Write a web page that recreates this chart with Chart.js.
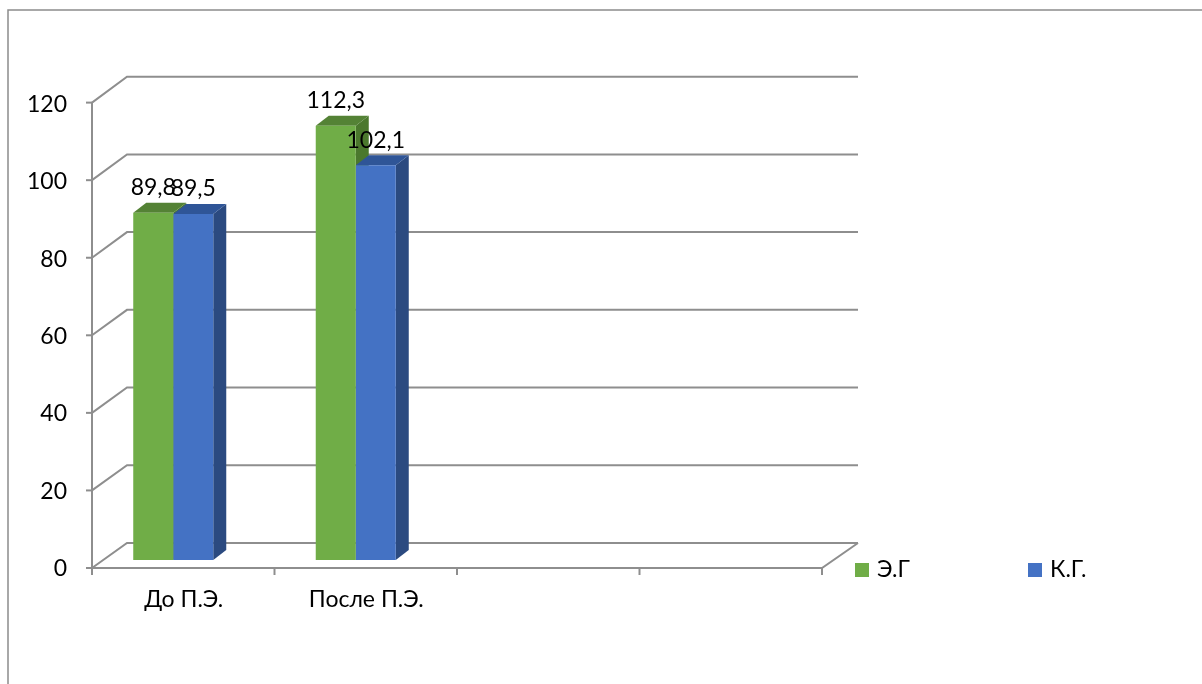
<!DOCTYPE html>
<html lang="ru">
<head>
<meta charset="utf-8">
<title>Э.Г / К.Г.</title>
<script src="https://cdn.jsdelivr.net/npm/chart.js@4"></script>
<style>
  html, body { margin: 0; padding: 0; background: #ffffff; }
  canvas { display: block; }
</style>
</head>
<body>
<canvas id="chart" width="1202" height="684"></canvas>
<script>
// Categories and series values
const categories = ["До П.Э.", "После П.Э.", "", ""];
const seriesNames = ["Э.Г", "К.Г."];
const egValues = [89.8, 112.3, null, null];
const kgValues = [89.5, 102.1, null, null];
const yMin = 0;
const yMax = 120;
const yStep = 20;

// Colours: front, top, side faces of the 3D columns
const palette = [
  { front: "#70AD47", top: "#548235", side: "#4B782D" },
  { front: "#4472C4", top: "#2F5597", side: "#2B4A80" }
];

const FONT = "Lato, 'Liberation Sans', sans-serif";
const gridColor = "#8E8E8E";

// depth of the floor/walls relative to the bar plane
const FRONT_DX = 10, FRONT_DY = 8;
const BACK_DX = 45, BACK_DY = -17;
// depth of a single column
const BAR_DX = 13, BAR_DY = 10;

function fmt(v) { return String(v).replace(".", ","); }

const walls3d = {
  id: "walls3d",
  beforeDraw(chart) {
    const { ctx } = chart;
    ctx.save();
    ctx.strokeStyle = "#8C8C8C";
    ctx.lineWidth = 1.5;
    ctx.strokeRect(8, 10, 1400, 900);
    ctx.restore();
  },
  beforeDatasetsDraw(chart) {
    const { ctx, chartArea: a, scales: { y } } = chart;
    const y0 = y.getPixelForValue(0);
    const fY = v => y0 + FRONT_DY - (y0 - y.getPixelForValue(v)) * 1.003;
    const bY = v => y0 + BACK_DY - (y0 - y.getPixelForValue(v)) * 1.005;
    const fL = a.left + FRONT_DX, fR = a.right + FRONT_DX;
    const bL = a.left + BACK_DX, bR = a.right + BACK_DX + 1;

    ctx.save();
    ctx.strokeStyle = gridColor;
    ctx.lineWidth = 2;
    ctx.lineJoin = "miter";
    // side wall diagonals + back wall gridlines
    y.ticks.forEach(t => {
      const v = t.value;
      ctx.beginPath();
      ctx.moveTo(fL, fY(v));
      ctx.lineTo(bL, bY(v));
      ctx.lineTo(bR, bY(v));
      ctx.stroke();
    });
    // floor front edge and right edge
    ctx.beginPath();
    ctx.moveTo(fL, fY(0));
    ctx.lineTo(fR, fY(0));
    ctx.lineTo(bR, bY(0));
    ctx.stroke();
    // vertical front axis
    ctx.beginPath();
    ctx.moveTo(fL, fY(yMax));
    ctx.lineTo(fL, fY(0));
    ctx.stroke();
    // y tick marks
    y.ticks.forEach(t => {
      ctx.beginPath();
      ctx.moveTo(fL - 6, fY(t.value));
      ctx.lineTo(fL, fY(t.value));
      ctx.stroke();
    });
    // x tick marks at category boundaries
    const n = categories.length;
    for (let i = 0; i <= n; i++) {
      const px = fL + (fR - fL) * i / n;
      ctx.beginPath();
      ctx.moveTo(px, fY(0));
      ctx.lineTo(px, fY(0) + 7);
      ctx.stroke();
    }
    ctx.restore();

    // top and side faces of every column
    chart.data.datasets.forEach((ds, di) => {
      const meta = chart.getDatasetMeta(di);
      const col = palette[di];
      meta.data.forEach((bar, j) => {
        if (ds.data[j] == null) return;
        const x0 = bar.x - bar.width / 2, x1 = bar.x + bar.width / 2;
        const yt = bar.y, yb = bar.base;
        ctx.save();
        ctx.fillStyle = col.side;
        ctx.beginPath();
        ctx.moveTo(x1, yb);
        ctx.lineTo(x1 + BAR_DX, yb - BAR_DY);
        ctx.lineTo(x1 + BAR_DX, yt - BAR_DY);
        ctx.lineTo(x1, yt);
        ctx.closePath();
        ctx.fill();
        ctx.fillStyle = col.top;
        ctx.beginPath();
        ctx.moveTo(x0, yt);
        ctx.lineTo(x1, yt);
        ctx.lineTo(x1 + BAR_DX, yt - BAR_DY);
        ctx.lineTo(x0 + BAR_DX, yt - BAR_DY);
        ctx.closePath();
        ctx.fill();
        ctx.restore();
      });
    });
  },
  afterDatasetsDraw(chart) {
    const { ctx } = chart;
    ctx.save();
    ctx.font = "23px " + FONT;
    ctx.fillStyle = "#000000";
    ctx.textAlign = "center";
    ctx.textBaseline = "alphabetic";
    chart.data.datasets.forEach((ds, di) => {
      const meta = chart.getDatasetMeta(di);
      meta.data.forEach((bar, j) => {
        const v = ds.data[j];
        if (v == null) return;
        ctx.fillText(fmt(v), bar.x, bar.y - 17.5);
      });
    });
    ctx.restore();
  },
  afterDraw(chart) {
    // legend in a single row to the right of the floor
    const { ctx, chartArea: a, scales: { y } } = chart;
    const yc = y.getPixelForValue(0) + FRONT_DY + 2;
    let lx = a.right + 43;
    ctx.save();
    ctx.font = "23px " + FONT;
    ctx.textBaseline = "middle";
    ctx.textAlign = "left";
    chart.data.datasets.forEach((ds, di) => {
      ctx.fillStyle = palette[di].front;
      ctx.fillRect(lx, yc - 7, 14, 14);
      ctx.fillStyle = "#000000";
      ctx.fillText(ds.label, lx + 22, yc);
      lx += 173;
    });
    ctx.restore();
  }
};

new Chart(document.getElementById("chart"), {
  type: "bar",
  data: {
    labels: categories,
    datasets: [
      { label: seriesNames[0], data: egValues, backgroundColor: palette[0].front },
      { label: seriesNames[1], data: kgValues, backgroundColor: palette[1].front }
    ]
  },
  options: {
    responsive: false,
    devicePixelRatio: 1,
    animation: false,
    layout: { padding: { top: 96, right: 390, bottom: 0, left: 0 } },
    datasets: {
      bar: { barPercentage: 1, categoryPercentage: 0.4384, borderWidth: 0 }
    },
    plugins: {
      legend: { display: false },
      tooltip: { enabled: false }
    },
    scales: {
      x: {
        grid: { display: false, drawTicks: false },
        border: { display: false },
        ticks: {
          color: "#000000",
          font: { family: FONT, size: 23 },
          padding: 26,
          labelOffset: 10.5,
          maxRotation: 0,
          autoSkip: false
        },
        afterFit(scale) { scale.height = 124; }
      },
      y: {
        min: yMin,
        max: yMax,
        grid: { display: false, drawTicks: false },
        border: { display: false },
        ticks: {
          stepSize: yStep,
          color: "#000000",
          font: { family: FONT, size: 23 },
          padding: 15,
          labelOffset: 8.5
        },
        afterFit(scale) { scale.width = 82; }
      }
    }
  },
  plugins: [walls3d]
});
</script>
</body>
</html>
